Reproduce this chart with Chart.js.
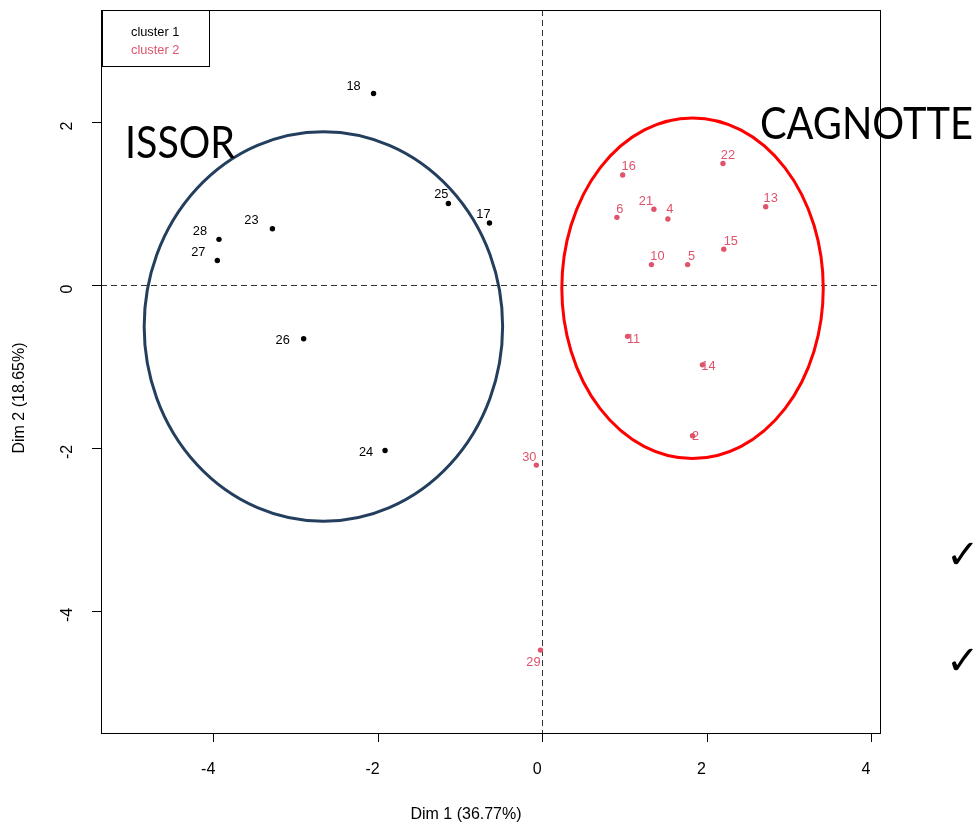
<!DOCTYPE html>
<html>
<head>
<meta charset="utf-8">
<script src="https://cdn.jsdelivr.net/npm/chart.js@4.4.1/dist/chart.umd.min.js"></script>
<style>
  html, body { margin: 0; padding: 0; background: #ffffff; }
  #pcaChart { display: block; }
</style>
</head>
<body>
<canvas id="pcaChart" width="979" height="826"></canvas>
<script>
// individuals, cluster 1
const cluster1Labels = ['18', '25', '17', '23', '28', '27', '26', '24'];
const cluster1X = [-2.05, -1.14, -0.64, -3.28, -3.93, -3.95, -2.90, -1.91];
const cluster1Y = [2.35, 1.00, 0.76, 0.69, 0.56, 0.30, -0.66, -2.03];

// individuals, cluster 2
const cluster2Labels = ['16', '22', '6', '21', '4', '13', '15', '10', '5', '11', '14', '2', '30', '29'];
const cluster2X = [0.98, 2.20, 0.91, 1.36, 1.53, 2.72, 2.21, 1.33, 1.77, 1.04, 1.95, 1.83, -0.07, -0.02];
const cluster2Y = [1.35, 1.49, 0.83, 0.93, 0.81, 0.96, 0.44, 0.25, 0.25, -0.63, -0.98, -1.85, -2.21, -4.48];

const xTicks = [-4, -2, 0, 2, 4];
const yTicks = [-4, -2, 0, 2];
const legendNames = ['cluster 1', 'cluster 2'];
const xTitle = 'Dim 1 (36.77%)';
const yTitle = 'Dim 2 (18.65%)';

// hand drawn group ellipses (in plot units)
const ellipseNames = ['ISSOR', 'CAGNOTTE'];
const ellipseCx = [-2.66, 1.83];
const ellipseCy = [-0.51, -0.04];
const ellipseRx = [2.18, 1.59];
const ellipseRy = [2.39, 2.09];

const black = '#000000';
const pink = '#DF536B';
const axisFont = '16px "Liberation Sans", Arial, sans-serif';
const smallFont = '12.8px "Liberation Sans", Arial, sans-serif';

// where each label sits relative to its point (px)
const labelShift = {
  '18': [-20, -7], '25': [-7, -9], '17': [-6, -9], '23': [-21, -8], '28': [-19, -8],
  '27': [-19, -8], '26': [-21, 2], '24': [-19, 2],
  '16': [6, -8], '22': [5, -8], '6': [3, -8], '21': [-8, -8], '4': [2, -9],
  '13': [5, -8], '15': [7, -8], '10': [6, -8], '5': [4, -8], '11': [6, 3],
  '14': [6, 2], '2': [3, 1], '30': [-7, -8], '29': [-7, 12]
};

function toPoints(xs, ys) {
  return xs.map((x, i) => ({ x: x, y: ys[i] }));
}

const currentData = {
  datasets: [
    {
      label: legendNames[0],
      data: toPoints(cluster1X, cluster1Y),
      names: cluster1Labels,
      backgroundColor: black,
      borderWidth: 0,
      pointRadius: 2.7
    },
    {
      label: legendNames[1],
      data: toPoints(cluster2X, cluster2Y),
      names: cluster2Labels,
      backgroundColor: pink,
      borderWidth: 0,
      pointRadius: 2.7
    }
  ]
};

const baseLayer = {
  id: 'baseLayer',
  beforeDatasetsDraw(chart) {
    const ctx = chart.ctx;
    const a = chart.chartArea;
    const xs = chart.scales.x, ys = chart.scales.y;
    ctx.save();
    ctx.strokeStyle = '#333';
    ctx.lineWidth = 1;
    ctx.setLineDash([6, 4]);
    const x0 = Math.round(xs.getPixelForValue(0)) + 0.5;
    const y0 = Math.round(ys.getPixelForValue(0)) + 0.5;
    ctx.beginPath();
    ctx.moveTo(x0, a.top); ctx.lineTo(x0, a.bottom);
    ctx.moveTo(a.left, y0); ctx.lineTo(a.right, y0);
    ctx.stroke();
    ctx.restore();
  }
};

const overlayLayer = {
  id: 'overlayLayer',
  afterDatasetsDraw(chart) {
    const ctx = chart.ctx;
    const xs = chart.scales.x, ys = chart.scales.y;
    ctx.save();

    // point labels
    ctx.font = smallFont;
    ctx.textAlign = 'center';
    ctx.textBaseline = 'middle';
    chart.data.datasets.forEach(ds => {
      ctx.fillStyle = ds.backgroundColor;
      ds.data.forEach((p, i) => {
        const nm = ds.names[i];
        const sh = labelShift[nm] || [0, -8];
        ctx.fillText(nm, xs.getPixelForValue(p.x) + sh[0], ys.getPixelForValue(p.y) + sh[1]);
      });
    });

    // ellipses
    const ellColors = ['#243F5E', '#FF0000'];
    ctx.lineWidth = 3;
    ellipseNames.forEach((nm, i) => {
      const cx = xs.getPixelForValue(ellipseCx[i]);
      const cy = ys.getPixelForValue(ellipseCy[i]);
      const rx = Math.abs(xs.getPixelForValue(ellipseCx[i] + ellipseRx[i]) - cx);
      const ry = Math.abs(ys.getPixelForValue(ellipseCy[i] + ellipseRy[i]) - cy);
      ctx.strokeStyle = ellColors[i];
      ctx.beginPath();
      ctx.ellipse(cx, cy, rx, ry, 0, 0, Math.PI * 2);
      ctx.stroke();
    });

    // legend box
    ctx.lineWidth = 1;
    ctx.strokeStyle = black;
    ctx.strokeRect(102.5, 10.5, 107, 56);
    ctx.textAlign = 'left';
    ctx.font = smallFont;
    ctx.fillStyle = black;
    ctx.fillText(legendNames[0], 131, 32);
    ctx.fillStyle = pink;
    ctx.fillText(legendNames[1], 131, 50);
    ctx.restore();
  },
  afterDraw(chart) {
    const ctx = chart.ctx;
    const a = chart.chartArea;
    const xs = chart.scales.x, ys = chart.scales.y;
    ctx.save();

    // group names
    ctx.fillStyle = black;
    ctx.textBaseline = 'alphabetic';
    ctx.textAlign = 'left';
    ctx.font = '44px Lato, "Open Sans", sans-serif';
    const fitText = (txt, x, y, w) => {
      const m = ctx.measureText(txt).width;
      ctx.save();
      ctx.translate(x, y);
      ctx.scale(w / m, 1);
      ctx.fillText(txt, 0, 0);
      ctx.restore();
    };
    fitText(ellipseNames[0], 125, 158, 110);
    fitText(ellipseNames[1], 760, 139, 213);

    // plot box, drawn over the text
    ctx.strokeStyle = black;
    ctx.lineWidth = 1;
    ctx.strokeRect(Math.round(a.left) + 0.5, Math.round(a.top) + 0.5,
      Math.round(a.right - a.left), Math.round(a.bottom - a.top));

    // x axis
    ctx.font = axisFont;
    ctx.textAlign = 'center';
    ctx.textBaseline = 'middle';
    ctx.beginPath();
    xTicks.forEach(t => {
      const px = Math.round(xs.getPixelForValue(t)) + 0.5;
      ctx.moveTo(px, a.bottom);
      ctx.lineTo(px, a.bottom + 9);
    });
    ctx.stroke();
    xTicks.forEach(t => {
      ctx.fillText(String(t), xs.getPixelForValue(t) - 5, 770);
    });
    ctx.fillText(xTitle, 466, 815);

    // y axis
    ctx.beginPath();
    yTicks.forEach(t => {
      const py = Math.round(ys.getPixelForValue(t)) + 0.5;
      ctx.moveTo(a.left, py);
      ctx.lineTo(a.left - 9, py);
    });
    ctx.stroke();
    yTicks.forEach(t => {
      ctx.save();
      ctx.translate(68, ys.getPixelForValue(t) + 4);
      ctx.rotate(-Math.PI / 2);
      ctx.fillText(String(t), 0, 0);
      ctx.restore();
    });
    ctx.save();
    ctx.translate(20, 398);
    ctx.rotate(-Math.PI / 2);
    ctx.fillText(yTitle, 0, 0);
    ctx.restore();

    // check marks at the right edge
    ctx.font = 'bold 40px "DejaVu Sans", sans-serif';
    ctx.textAlign = 'left';
    ctx.fillText('\u2713', 946, 558);
    ctx.fillText('\u2713', 946, 664);
    ctx.restore();
  }
};

const chartConfig = {
  type: 'scatter',
  data: currentData,
  options: {
    responsive: false,
    animation: false,
    layout: {
      padding: { left: 101, right: 99, top: 10, bottom: 93 }
    },
    plugins: {
      legend: { display: false },
      tooltip: { enabled: false }
    },
    scales: {
      x: { type: 'linear', display: false, min: -5.365, max: 4.11 },
      y: { type: 'linear', display: false, min: -5.497, max: 3.374 }
    }
  },
  plugins: [baseLayer, overlayLayer]
};

const pcaChart = new Chart(document.getElementById('pcaChart'), chartConfig);
</script>
</body>
</html>
